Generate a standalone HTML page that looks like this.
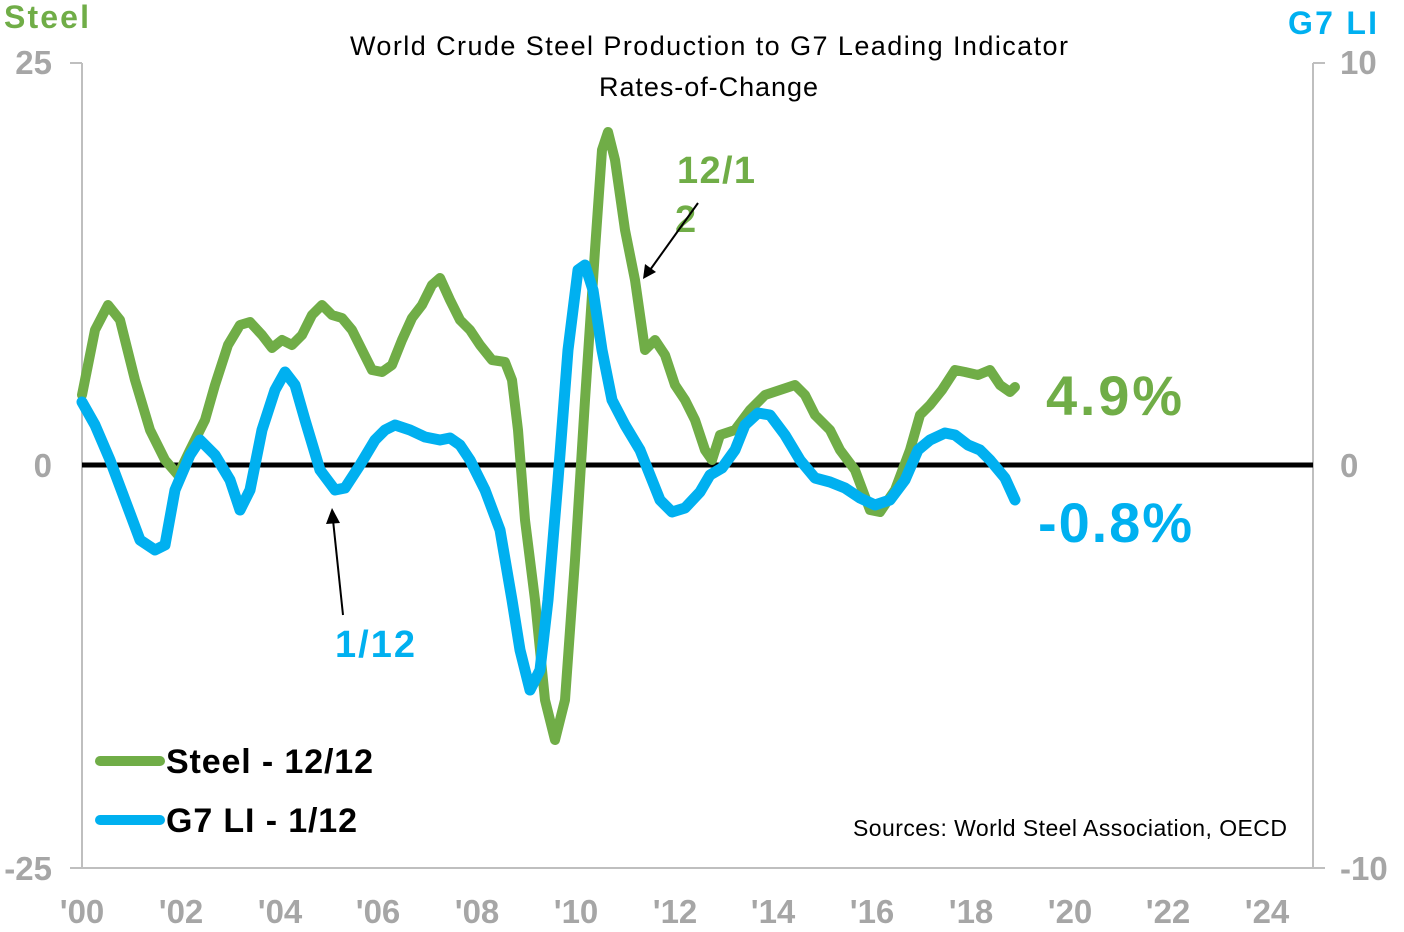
<!DOCTYPE html>
<html><head><meta charset="utf-8"><style>
html,body{margin:0;padding:0;background:#fff;}
svg{display:block;font-family:"Liberation Sans",Arial,sans-serif;}
</style></head><body>
<svg width="1404" height="932" viewBox="0 0 1404 932">
<rect width="1404" height="932" fill="#fff"/>
<line x1="82" y1="63" x2="82" y2="868" stroke="#bfbfbf" stroke-width="2"/>
<line x1="70" y1="63" x2="82" y2="63" stroke="#bfbfbf" stroke-width="2"/>
<line x1="70" y1="868" x2="82" y2="868" stroke="#bfbfbf" stroke-width="2"/>
<line x1="82" y1="868" x2="1313" y2="868" stroke="#bfbfbf" stroke-width="2"/>
<line x1="1313" y1="63" x2="1313" y2="868" stroke="#bfbfbf" stroke-width="2"/>
<line x1="1313" y1="63" x2="1325" y2="63" stroke="#bfbfbf" stroke-width="2"/>
<line x1="1313" y1="868" x2="1325" y2="868" stroke="#bfbfbf" stroke-width="2"/>
<line x1="82" y1="465" x2="1313" y2="465" stroke="#000" stroke-width="5"/>
<g fill="#a6a6a6" font-size="33" font-weight="bold">
<text x="52" y="74" text-anchor="end">25</text>
<text x="52" y="477" text-anchor="end">0</text>
<text x="52" y="880" text-anchor="end">-25</text>
<text x="1340" y="74">10</text>
<text x="1340" y="477">0</text>
<text x="1340" y="880">-10</text>
<g text-anchor="middle">
<text x="82" y="923">'00</text><text x="181" y="923">'02</text><text x="280" y="923">'04</text>
<text x="378" y="923">'06</text><text x="477" y="923">'08</text><text x="576" y="923">'10</text>
<text x="675" y="923">'12</text><text x="773" y="923">'14</text><text x="872" y="923">'16</text>
<text x="971" y="923">'18</text><text x="1070" y="923">'20</text><text x="1168" y="923">'22</text>
<text x="1267" y="923">'24</text></g>
</g>
<text x="4" y="28" fill="#70ad47" font-size="32" font-weight="bold" textLength="85">Steel</text>
<text x="1288" y="34" fill="#00b0f0" font-size="32" font-weight="bold" textLength="89">G7 LI</text>
<text x="350" y="55" font-size="27" textLength="718">World Crude Steel Production to G7 Leading Indicator</text>
<text x="599" y="96" font-size="27" textLength="219">Rates-of-Change</text>
<polyline fill="none" stroke="#70ad47" stroke-width="10" stroke-linejoin="round" stroke-linecap="round" points="82,395 95,330 108,305 120,320 135,380 150,430 165,460 178,475 190,450 205,420 215,385 228,345 240,325 250,322 262,335 272,348 282,340 292,345 302,335 312,315 322,305 332,315 342,318 352,330 362,350 372,370 382,372 392,365 402,340 412,318 422,305 432,285 440,278 450,300 460,320 470,330 480,345 492,360 505,362 512,380 518,430 525,520 535,600 545,700 555,740 565,700 575,560 585,400 595,250 602,150 608,132 615,160 625,230 635,280 645,350 655,340 665,355 675,385 685,400 695,420 705,450 712,460 720,435 735,430 750,410 765,395 780,390 795,385 805,395 815,415 830,430 840,450 855,470 870,510 880,512 895,490 910,450 920,415 930,405 942,390 955,370 965,372 978,375 990,370 1000,385 1010,392 1015,387"/>
<polyline fill="none" stroke="#00b0f0" stroke-width="11" stroke-linejoin="round" stroke-linecap="round" points="82,402 95,425 110,460 125,500 140,540 155,550 165,545 175,490 190,455 200,440 215,455 230,480 240,510 250,490 262,430 275,390 285,372 295,385 305,420 320,470 335,490 345,488 360,465 375,440 385,430 395,425 410,430 425,437 440,440 450,438 460,445 470,460 485,490 500,530 512,600 520,650 530,690 540,670 548,600 558,480 568,350 578,270 585,265 593,290 602,350 612,400 625,425 640,450 650,475 660,500 672,512 685,508 700,492 710,475 722,468 735,450 745,425 758,413 770,415 785,435 800,460 815,478 830,482 845,488 860,498 875,505 890,500 905,480 918,450 930,440 945,433 955,435 968,445 980,450 990,460 1005,478 1015,500"/>
<text x="677" y="183" fill="#70ad47" font-size="38" font-weight="bold" textLength="78">12/1</text>
<text x="675" y="232" fill="#70ad47" font-size="38" font-weight="bold">2</text>
<line x1="698" y1="203" x2="650" y2="270" stroke="#000" stroke-width="2"/>
<polygon points="643,279 645,264 656,272" fill="#000"/>
<text x="335" y="657" fill="#00b0f0" font-size="38" font-weight="bold" textLength="80">1/12</text>
<line x1="343" y1="615" x2="333" y2="520" stroke="#000" stroke-width="2"/>
<polygon points="332,508 326,524 340,523" fill="#000"/>
<text x="1046" y="415" fill="#70ad47" font-size="56" font-weight="bold" textLength="136">4.9%</text>
<text x="1038" y="542" fill="#00b0f0" font-size="56" font-weight="bold" textLength="154">-0.8%</text>
<line x1="100" y1="761" x2="160" y2="761" stroke="#70ad47" stroke-width="10" stroke-linecap="round"/>
<text x="166" y="773" font-size="34" font-weight="bold" textLength="207">Steel - 12/12</text>
<line x1="100" y1="820" x2="160" y2="820" stroke="#00b0f0" stroke-width="10" stroke-linecap="round"/>
<text x="166" y="832" font-size="34" font-weight="bold" textLength="191">G7 LI - 1/12</text>
<text x="853" y="836" font-size="23" textLength="434">Sources: World Steel Association, OECD</text>
</svg>
</body></html>
